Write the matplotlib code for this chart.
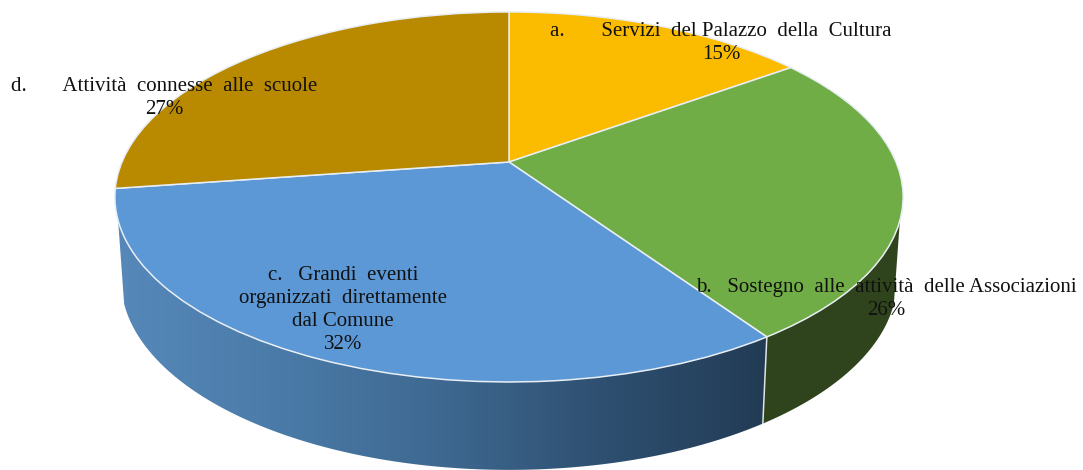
import numpy as np
import matplotlib
matplotlib.use('Agg')
import matplotlib.pyplot as plt
from matplotlib.colors import LinearSegmentedColormap
from matplotlib.patches import Polygon
from matplotlib.transforms import Transform

plt.rcParams['font.family'] = ['Liberation Serif', 'DejaVu Serif']

# values (labels show them rounded)
labels = ['a.       Servizi  del Palazzo  della  Cultura',
          'b.   Sostegno  alle  attività  delle Associazioni',
          'c.   Grandi  eventi\norganizzati  direttamente\ndal Comune',
          'd.       Attività  connesse  alle  scuole']
values = [15.0, 25.5, 32.2, 27.3]
colors = ['#FBBC00', '#70AD47', '#5B98D5', '#B98A00']
label_pos = [(721, 43), (886, 299), (343, 310), (164, 98)]

# tilt of the disc
K = 0.189


class Tilt(Transform):
    input_dims = 2
    output_dims = 2

    def __init__(self, cx, cy, bx, by):
        super().__init__()
        self.c = (cx, cy, bx, by)

    def transform_non_affine(self, xy):
        cx, cy, bx, by = self.c
        xy = np.asarray(xy)
        d = 1 + K * xy[:, 1]
        return np.column_stack([cx + bx * xy[:, 0] / d, cy - by * xy[:, 1] / d])


top = Tilt(509, 162, 387, 178.4)
bottom = Tilt(509, 244, 381, 183.2)


def ring(tr, a0, a1):
    a = np.radians(np.linspace(a0, a1, 80))
    return tr.transform_non_affine(np.column_stack([np.sin(a), np.cos(a)]))


def side(a0, a1):
    return np.vstack([ring(top, a0, a1), ring(bottom, a1, a0)])


fig, ax = plt.subplots(figsize=(10.83, 4.70), dpi=100)
fig.subplots_adjust(0, 0, 1, 1)

wedges = ax.pie(values, colors=colors, startangle=90, counterclock=False,
                wedgeprops=dict(edgecolor='#e8eef4', linewidth=1.1))[0]
for w in wedges:
    w.set_transform(top + ax.transData)
    w.set_zorder(3)

ax.set_aspect('auto')
ax.axis('off')

# side wall, only the part facing the viewer
split = 3.6 * (values[0] + values[1])
green_side = Polygon(side(108, split), facecolor='#2F441C', edgecolor='none', zorder=1)
ax.add_patch(green_side)

blue_side = Polygon(side(split, 252), facecolor='none', edgecolor='none')
ax.add_patch(blue_side)
shade = LinearSegmentedColormap.from_list(
    'shade', ['#5688BA', '#4A7BA8', '#3E6890', '#2E4F70', '#223B54'])
im = ax.imshow(np.linspace(0, 1, 256).reshape(1, -1), cmap=shade, aspect='auto',
               extent=(114, 772, 470, 190), zorder=1)
im.set_clip_path(blue_side)
ax.set_xlim(0, 1083)
ax.set_ylim(470, 0)

edge = np.vstack([ring(top, split, split), ring(bottom, split, split)])
ax.plot(edge[[0, -1], 0], edge[[0, -1], 1], color='#dfe5ea', lw=1.1, zorder=2)

for lab, v, (x, y) in zip(labels, values, label_pos):
    ax.text(x, y, f'{lab}\n{round(v)}%', ha='center', va='center', fontsize=15.0,
            linespacing=1.29, color='#111111', zorder=5)

fig.savefig('out.png', dpi=100)
